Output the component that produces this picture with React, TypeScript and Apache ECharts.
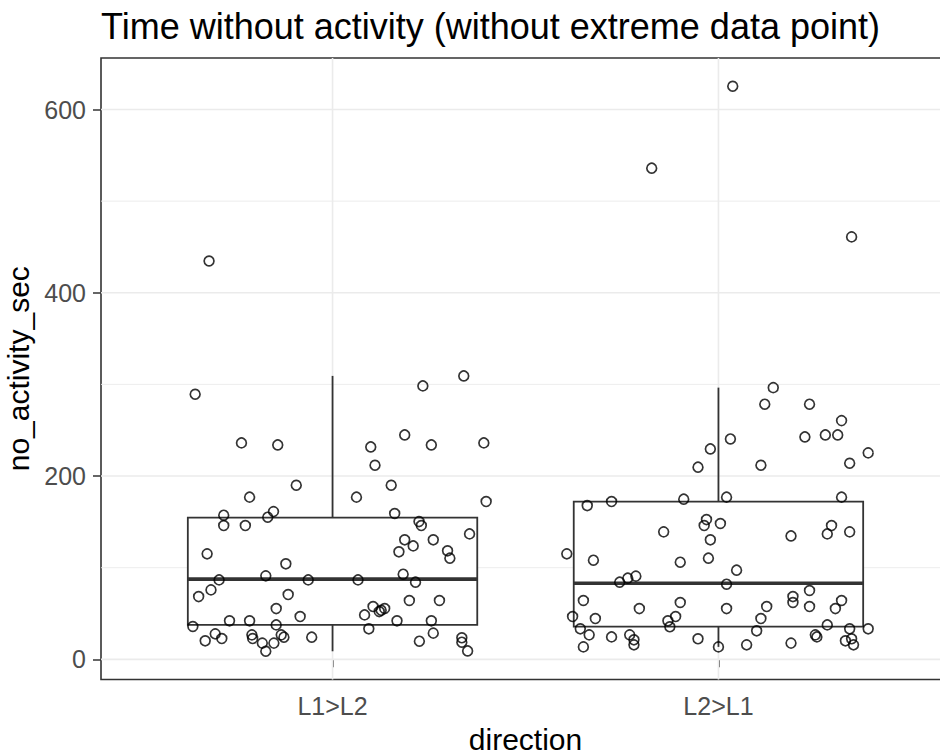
import React, { useEffect, useRef } from "react";
import * as echarts from "echarts";

const FONT = "'Liberation Sans', Arial, Helvetica, sans-serif";

const titleText = "Time without activity (without extreme data point)";
const xAxisTitle = "direction";
const yAxisTitle = "no_activity_sec";

const categories = ["L1>L2", "L2>L1"];
const categoryPositions = [1, 2];
const yTicks = [0, 200, 400, 600];
const yMinorTicks = [100, 300, 500];

// [lower whisker, Q1, median, Q3, upper whisker]
const boxL1L2 = [8.8, 37.6, 87.5, 154.7, 309.3];
const boxL2L1 = [13.6, 35.8, 83.1, 172.2, 296.5];

// jittered points [x position, no_activity_sec]
const pointsL1L2: number[][] = [
  [0.680, 434.7], [0.644, 289.3], [0.764, 236.2], [0.858, 234], [0.906, 190],
  [0.785, 177], [0.718, 157.3], [0.847, 161.2], [0.832, 155.1], [0.718, 146],
  [0.774, 146], [0.675, 115.1], [0.879, 104.2], [0.706, 86.7], [0.827, 91.1],
  [0.937, 86.7], [1.066, 86.7], [0.653, 68.5], [0.685, 75.8], [0.885, 70.7],
  [0.854, 55.4], [0.916, 46.7], [0.638, 35.8], [0.733, 42], [0.785, 42],
  [0.854, 37.6], [0.670, 20.2], [0.696, 27.8], [0.713, 22.7], [0.791, 26.7],
  [0.793, 22.7], [0.818, 17.7], [0.848, 17.7], [0.827, 8.8], [0.867, 26.7],
  [0.874, 24.2], [0.946, 24.2], [1.340, 309.3], [1.234, 298.4], [1.187, 244.9],
  [1.099, 231.8], [1.256, 234], [1.392, 236.2], [1.110, 211.8], [1.152, 190],
  [1.062, 177], [1.398, 172.2], [1.161, 159.1], [1.224, 150.3], [1.230, 146],
  [1.355, 136.9], [1.187, 130.4], [1.261, 130.4], [1.209, 123.8], [1.172, 117.3],
  [1.298, 118.4], [1.304, 110.4], [1.183, 92.9], [1.215, 84.2], [1.199, 64.2],
  [1.277, 64.2], [1.105, 57.6], [1.135, 55.4], [1.121, 52.1], [1.126, 53.5],
  [1.083, 48.5], [1.167, 42], [1.256, 42], [1.094, 33.3], [1.261, 28.6],
  [1.225, 19.8], [1.335, 23.5], [1.335, 18.7], [1.350, 9.2],
];

const pointsL2L1: number[][] = [
  [1.827, 536], [2.037, 625.4], [2.345, 461], [2.142, 296.5], [2.120, 278.4],
  [2.236, 278.4], [2.319, 260.5], [2.224, 242.7], [2.277, 244.9], [2.309, 244.9],
  [2.031, 240.5], [1.979, 229.6], [2.388, 225.3], [1.947, 209.7], [2.110, 211.8],
  [2.340, 214], [2.021, 177], [2.319, 177], [1.910, 174.8], [1.723, 172.2],
  [1.660, 167.8], [1.969, 152.5], [1.963, 146], [2.005, 148.2], [1.858, 139.1],
  [2.188, 134.7], [2.293, 146], [2.282, 136.9], [2.340, 139.1], [1.979, 130.4],
  [1.607, 115.1], [1.676, 108.2], [1.901, 106], [1.974, 110.4], [2.047, 97.3],
  [1.744, 84.2], [1.765, 88.6], [1.786, 90.8], [2.021, 82], [2.236, 75.1],
  [1.650, 64.2], [1.901, 62], [1.795, 55.4], [2.021, 55.4], [2.125, 57.6],
  [2.193, 68.5], [2.193, 62], [2.236, 57.6], [2.319, 64.2], [2.303, 55.4],
  [1.622, 46.7], [1.681, 44.5], [1.869, 42], [1.889, 46.7], [1.874, 35.5],
  [2.110, 44.5], [2.282, 37.6], [1.642, 33.3], [1.665, 26.7], [1.723, 24.5],
  [1.770, 26.7], [1.781, 21.3], [1.781, 15.8], [1.650, 13.6], [1.947, 22.4],
  [2.000, 13.6], [2.073, 15.8], [2.099, 31.1], [2.188, 17.7], [2.251, 26.7],
  [2.255, 24.5], [2.340, 33.3], [2.388, 33.3], [2.329, 20.2], [2.345, 22.4],
  [2.350, 15.8],
];

const X_MIN = 0.4;
const X_MAX = 2.6;
const Y_MIN = -22;
const Y_MAX = 656.2;
const BOX_HALF_WIDTH = 0.375;

export default function App() {
  const ref = useRef<HTMLDivElement>(null);

  useEffect(() => {
    if (!ref.current) return;
    const chart = echarts.init(ref.current, undefined, { renderer: "svg" });

    const hLine = (color: string, width: number) => (params: any, api: any) => {
      const v = api.value(1);
      const a = api.coord([X_MIN, v]);
      const b = api.coord([X_MAX, v]);
      return {
        type: "line",
        shape: { x1: a[0], y1: a[1], x2: b[0], y2: b[1] },
        style: { stroke: color, lineWidth: width },
        silent: true,
      };
    };
    const vLine = (color: string, width: number) => (params: any, api: any) => {
      const v = api.value(0);
      const a = api.coord([v, Y_MIN]);
      const b = api.coord([v, Y_MAX]);
      return {
        type: "line",
        shape: { x1: a[0], y1: a[1], x2: b[0], y2: b[1] },
        style: { stroke: color, lineWidth: width },
        silent: true,
      };
    };

    const boxData = [
      [categoryPositions[0], ...boxL1L2],
      [categoryPositions[1], ...boxL2L1],
    ];

    const option: any = {
      animation: false,
      backgroundColor: "#ffffff",
      title: {
        text: titleText,
        left: 101,
        top: 8,
        padding: 0,
        textStyle: { fontSize: 36, fontWeight: "normal", color: "#000000", fontFamily: FONT },
      },
      grid: {
        left: 101,
        top: 58,
        width: 849,
        height: 621.5,
        outerBoundsMode: "none",
        containLabel: false,
        show: true,
        backgroundColor: "#ffffff",
        borderColor: "#333333",
        borderWidth: 1.6,
      },
      xAxis: {
        type: "value",
        min: X_MIN,
        max: X_MAX,
        splitLine: { show: false },
        axisLine: { show: false },
        axisTick: {
          show: true,
          length: 8,
          customValues: categoryPositions,
          lineStyle: { color: "#333333", width: 1.5 },
        },
        axisLabel: {
          customValues: categoryPositions,
          formatter: (v: number) => {
            const i = categoryPositions.indexOf(Math.round(v));
            return i >= 0 ? categories[i] : "";
          },
          fontSize: 25,
          color: "#4D4D4D",
          margin: 14,
          fontFamily: FONT,
        },
        name: xAxisTitle,
        nameLocation: "middle",
        nameGap: 45,
        nameTextStyle: { fontSize: 30, color: "#000000", fontFamily: FONT },
      },
      yAxis: {
        type: "value",
        min: Y_MIN,
        max: Y_MAX,
        splitLine: { show: false },
        axisLine: { show: false },
        axisTick: {
          show: true,
          length: 8,
          customValues: yTicks,
          lineStyle: { color: "#333333", width: 1.5 },
        },
        axisLabel: {
          customValues: yTicks,
          fontSize: 25,
          color: "#4D4D4D",
          margin: 15,
          fontFamily: FONT,
        },
        name: yAxisTitle,
        nameLocation: "middle",
        nameRotate: 90,
        nameGap: 61,
        nameTextStyle: { fontSize: 30, color: "#000000", fontFamily: FONT },
      },
      series: [
        {
          type: "custom",
          name: "minorGrid",
          silent: true,
          z: 1,
          data: yMinorTicks.map((v) => [1, v]),
          encode: { x: 0, y: 1 },
          renderItem: hLine("#EBEBEB", 0.9),
        },
        {
          type: "custom",
          name: "majorGridY",
          silent: true,
          z: 1,
          data: yTicks.map((v) => [1, v]),
          encode: { x: 0, y: 1 },
          renderItem: hLine("#EBEBEB", 1.6),
        },
        {
          type: "custom",
          name: "majorGridX",
          silent: true,
          z: 1,
          data: categoryPositions.map((v) => [v, 0]),
          encode: { x: 0, y: 1 },
          renderItem: vLine("#EBEBEB", 1.6),
        },
        {
          type: "custom",
          name: "boxplot",
          z: 2,
          data: boxData,
          encode: { x: 0, y: [1, 2, 3, 4, 5] },
          renderItem: (params: any, api: any) => {
            const x = api.value(0);
            const lo = api.value(1);
            const q1 = api.value(2);
            const med = api.value(3);
            const q3 = api.value(4);
            const hi = api.value(5);
            const tl = api.coord([x - BOX_HALF_WIDTH, q3]);
            const br = api.coord([x + BOX_HALF_WIDTH, q1]);
            const pHi = api.coord([x, hi]);
            const pQ3 = api.coord([x, q3]);
            const pQ1 = api.coord([x, q1]);
            const pLo = api.coord([x, lo]);
            const mL = api.coord([x - BOX_HALF_WIDTH, med]);
            const mR = api.coord([x + BOX_HALF_WIDTH, med]);
            const stroke = "#333333";
            return {
              type: "group",
              children: [
                { type: "line", shape: { x1: pHi[0], y1: pHi[1], x2: pQ3[0], y2: pQ3[1] }, style: { stroke, lineWidth: 1.8 } },
                { type: "line", shape: { x1: pQ1[0], y1: pQ1[1], x2: pLo[0], y2: pLo[1] }, style: { stroke, lineWidth: 1.8 } },
                {
                  type: "rect",
                  shape: { x: tl[0], y: tl[1], width: br[0] - tl[0], height: br[1] - tl[1] },
                  style: { fill: "#ffffff", stroke, lineWidth: 1.8 },
                },
                { type: "line", shape: { x1: mL[0], y1: mL[1], x2: mR[0], y2: mR[1] }, style: { stroke, lineWidth: 3.6 } },
              ],
            };
          },
        },
        {
          type: "scatter",
          name: categories[0],
          z: 3,
          symbol: "circle",
          symbolSize: 9.8,
          data: pointsL1L2,
          itemStyle: { color: "rgba(0,0,0,0)", borderColor: "#000000", borderWidth: 1.7 },
        },
        {
          type: "scatter",
          name: categories[1],
          z: 3,
          symbol: "circle",
          symbolSize: 9.8,
          data: pointsL2L1,
          itemStyle: { color: "rgba(0,0,0,0)", borderColor: "#000000", borderWidth: 1.7 },
        },
      ],
    };

    chart.setOption(option);
    return () => {
      chart.dispose();
    };
  }, []);

  return (
    <div
      ref={ref}
      style={{ position: "fixed", left: 0, top: 0, width: 940, height: 756, background: "#ffffff" }}
    />
  );
}
